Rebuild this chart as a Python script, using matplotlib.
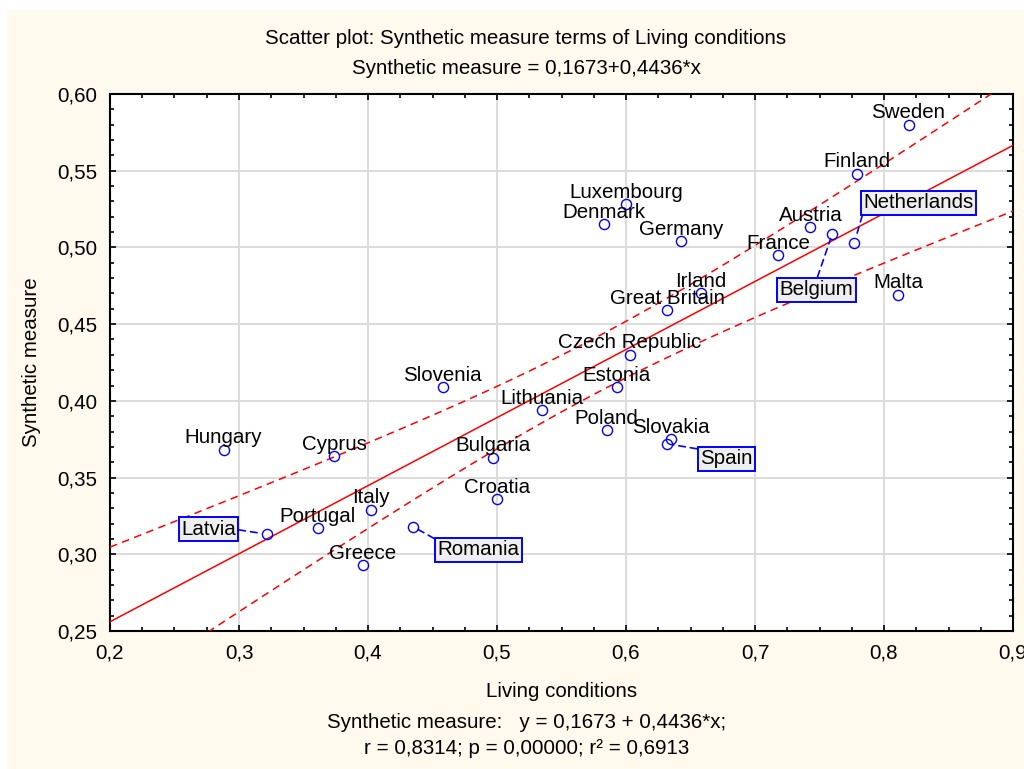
import numpy as np
import matplotlib
matplotlib.use("Agg")
import matplotlib.pyplot as plt
import matplotlib.patches as patches
from matplotlib.ticker import MultipleLocator, FuncFormatter

plt.rcParams['font.family'] = ['Liberation Sans', 'DejaVu Sans']

countries = ["Sweden", "Finland", "Netherlands", "Belgium", "Austria", "France",
             "Malta", "Luxembourg", "Denmark", "Germany", "Irland", "Great Britain",
             "Czech Republic", "Estonia", "Lithuania", "Poland", "Slovakia", "Spain",
             "Slovenia", "Hungary", "Cyprus", "Bulgaria", "Croatia", "Italy",
             "Portugal", "Latvia", "Romania", "Greece"]
living = [0.819, 0.779, 0.777, 0.760, 0.743, 0.718,
          0.811, 0.600, 0.583, 0.643, 0.658, 0.632,
          0.603, 0.593, 0.535, 0.585, 0.635, 0.632,
          0.458, 0.288, 0.374, 0.497, 0.500, 0.402,
          0.361, 0.322, 0.435, 0.396]
synthetic = [0.580, 0.548, 0.503, 0.509, 0.513, 0.495,
             0.469, 0.528, 0.515, 0.504, 0.470, 0.459,
             0.430, 0.409, 0.394, 0.381, 0.375, 0.372,
             0.409, 0.368, 0.364, 0.363, 0.336, 0.329,
             0.317, 0.313, 0.318, 0.293]

intercept = 0.1673
slope = 0.4436

# labels drawn in a box: offset (pixels) of the box from its point,
# and where on the box the dashed connector starts
boxed = {"Netherlands": ((64, 40), (0.0, 0.0)),
         "Belgium": ((-16, -56), (0.5, 1.0)),
         "Spain": ((59, -15), (0.0, 1.0)),
         "Latvia": ((-59, 5), (1.0, 0.5)),
         "Romania": ((65, -23), (0.0, 1.0))}

FS = 14.8
cream = "#FFF9EE"
fig = plt.figure(figsize=(10.24, 7.69), dpi=100, facecolor="white")
fig.patches.append(patches.Rectangle((7 / 1024, 0), 1, 1 - 10 / 769,
                                     transform=fig.transFigure, facecolor=cream,
                                     edgecolor="none", zorder=-10))
ax = fig.add_axes([110 / 1024, 138 / 769, 903 / 1024, 537 / 769])
ax.set_facecolor("white")

x = np.array(living)
y = np.array(synthetic)

# regression line and 95% confidence band of the mean
n = len(x)
resid = y - (intercept + slope * x)
s = np.sqrt(np.sum(resid ** 2) / (n - 2))
sxx = np.sum((x - x.mean()) ** 2)
t_crit = 2.0555
xs = np.linspace(0.2, 0.9, 300)
fit = intercept + slope * xs
half = t_crit * s * np.sqrt(1 / n + (xs - x.mean()) ** 2 / sxx)
ax.plot(xs, fit, color="red", lw=1.1, zorder=3)
ax.plot(xs, fit + half, color="red", lw=1.1, ls=(0, (5, 3.5)), zorder=3)
ax.plot(xs, fit - half, color="red", lw=1.1, ls=(0, (5, 3.5)), zorder=3)

ax.plot(x, y, ls="none", marker="o", ms=7.3, mfc="none", mec="blue", mew=1.0, zorder=5)

for name, xi, yi in zip(countries, living, synthetic):
    if name in boxed:
        (dx, dy), rel = boxed[name]
        ax.annotate(name, (xi, yi), xytext=(dx, dy), textcoords="offset pixels",
                    ha="center", va="center", fontsize=FS, zorder=6,
                    bbox=dict(boxstyle="square,pad=0.12", fc="#EFEFEF", ec="blue", lw=1.4),
                    arrowprops=dict(arrowstyle="-", ls=(0, (4, 3)), color="blue",
                                    lw=1.2, shrinkA=0, shrinkB=4, relpos=rel))
    else:
        ax.annotate(name, (xi, yi), xytext=(0, 12), textcoords="offset pixels",
                    ha="center", va="center", fontsize=FS, zorder=6)

ax.set_xlim(0.2, 0.9)
ax.set_ylim(0.25, 0.60)
ax.xaxis.set_major_locator(MultipleLocator(0.1))
ax.xaxis.set_minor_locator(MultipleLocator(0.025))
ax.yaxis.set_major_locator(MultipleLocator(0.05))
ax.yaxis.set_minor_locator(MultipleLocator(0.01))
ax.xaxis.set_major_formatter(FuncFormatter(lambda v, _: f"{v:.1f}".replace(".", ",")))
ax.yaxis.set_major_formatter(FuncFormatter(lambda v, _: f"{v:.2f}".replace(".", ",")))
ax.tick_params(which="both", direction="in", top=True, right=True, labelsize=FS,
               width=1.2, colors="black")
ax.tick_params(which="major", length=4)
ax.tick_params(which="minor", length=3)
ax.tick_params(axis="x", pad=9)
ax.tick_params(axis="y", pad=9)
ax.grid(True, which="major", color="#DCDCDC", lw=1.4, zorder=0)
ax.set_axisbelow(True)
for sp in ax.spines.values():
    sp.set_linewidth(1.5)

ax.set_xlabel("Living conditions", fontsize=FS, labelpad=14)
fig.text(32 / 1024, 1 - 362 / 769, "Synthetic measure", rotation=90,
         ha="center", va="center", fontsize=FS)

fig.text(526 / 1024, 1 - 38 / 769, "Scatter plot: Synthetic measure terms of Living conditions",
         ha="center", va="center", fontsize=FS)
fig.text(526 / 1024, 1 - 68 / 769, "Synthetic measure = 0,1673+0,4436*x",
         ha="center", va="center", fontsize=FS)
fig.text(527 / 1024, 1 - 722 / 769, "Synthetic measure:   y = 0,1673 + 0,4436*x;",
         ha="center", va="center", fontsize=FS)
fig.text(527 / 1024, 1 - 749 / 769, "r = 0,8314; p = 0,00000; r² = 0,6913",
         ha="center", va="center", fontsize=FS)

fig.savefig("out.png", dpi=100, facecolor=fig.get_facecolor())
